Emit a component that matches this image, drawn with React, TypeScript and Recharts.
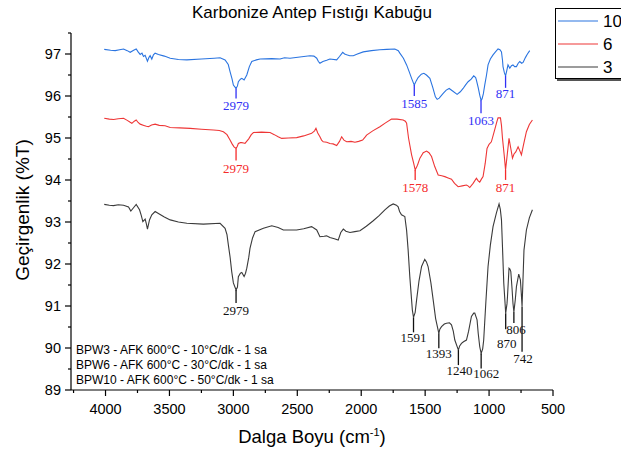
import React from 'react';
import { LineChart, Line, XAxis, YAxis, ReferenceLine } from 'recharts';

// BPW10 (mavi)
const bpw10Wave = [4010, 3960, 3924, 3890, 3859, 3830, 3807, 3780, 3760, 3745, 3729, 3715, 3703, 3690, 3672, 3660, 3651, 3638, 3625, 3612, 3586, 3540, 3494, 3430, 3364, 3250, 3150, 3104, 3065, 3040, 3026, 3010, 3000, 2979, 2968, 2961, 2945, 2934, 2916, 2895, 2875, 2856, 2820, 2791, 2700, 2635, 2600, 2557, 2480, 2401, 2370, 2348, 2335, 2323, 2300, 2270, 2245, 2192, 2170, 2145, 2130, 2114, 2090, 2062, 2030, 1984, 1920, 1854, 1800, 1737, 1710, 1698, 1670, 1645, 1625, 1606, 1585, 1570, 1555, 1530, 1510, 1490, 1463, 1440, 1420, 1406, 1390, 1359, 1335, 1312, 1285, 1250, 1225, 1203, 1185, 1164, 1140, 1120, 1105, 1099, 1085, 1073, 1063, 1055, 1045, 1034, 1020, 1008, 990, 969, 950, 930, 915, 903, 895, 891, 880, 871, 862, 852, 845, 838, 825, 813, 800, 786, 772, 760, 745, 734, 715, 700, 682];
const bpw10T = [97.11, 97.09, 97.08, 97.1, 97.12, 97.08, 97.04, 97.09, 97.12, 97.05, 96.99, 97.02, 96.94, 96.97, 96.83, 96.92, 96.96, 96.88, 96.98, 97.02, 96.99, 96.95, 96.9, 96.87, 96.86, 96.88, 96.9, 96.91, 96.86, 96.75, 96.58, 96.4, 96.26, 96.18, 96.24, 96.34, 96.4, 96.42, 96.38, 96.5, 96.7, 96.82, 96.86, 96.88, 96.89, 96.88, 96.91, 96.9, 96.93, 96.96, 96.95, 96.9, 96.82, 96.78, 96.82, 96.85, 96.88, 96.86, 96.94, 97.04, 97.0, 96.98, 96.96, 96.96, 97.0, 97.05, 97.08, 97.1, 97.11, 97.12, 97.08, 97.02, 96.9, 96.74, 96.58, 96.42, 96.26, 96.36, 96.44, 96.52, 96.54, 96.5, 96.42, 96.2, 95.98, 95.92, 95.95, 96.06, 96.14, 96.18, 96.12, 96.04, 96.1, 96.18, 96.26, 96.34, 96.4, 96.48, 96.44, 96.38, 96.2, 96.02, 95.9, 95.93, 96.05, 96.26, 96.5, 96.74, 96.88, 96.98, 97.05, 97.12, 97.1, 97.05, 96.85, 96.7, 96.55, 96.48, 96.6, 96.74, 96.7, 96.66, 96.72, 96.74, 96.7, 96.7, 96.78, 96.82, 96.78, 96.8, 96.92, 97.0, 97.08];

// BPW6 (kırmızı)
const bpw6Wave = [4010, 3970, 3937, 3900, 3859, 3830, 3810, 3794, 3775, 3760, 3745, 3729, 3700, 3680, 3664, 3640, 3612, 3580, 3534, 3494, 3420, 3338, 3250, 3156, 3110, 3078, 3050, 3026, 3010, 2995, 2979, 2970, 2961, 2945, 2934, 2920, 2909, 2880, 2860, 2843, 2780, 2713, 2680, 2650, 2622, 2570, 2505, 2450, 2388, 2365, 2354, 2340, 2323, 2310, 2297, 2270, 2245, 2220, 2192, 2170, 2153, 2135, 2114, 2080, 2049, 2020, 1989, 1970, 1958, 1910, 1854, 1810, 1763, 1720, 1672, 1655, 1645, 1630, 1606, 1590, 1578, 1560, 1541, 1515, 1489, 1470, 1450, 1425, 1398, 1370, 1346, 1320, 1294, 1270, 1242, 1210, 1177, 1165, 1151, 1125, 1099, 1085, 1073, 1060, 1047, 1030, 1016, 1000, 982, 960, 940, 930, 911, 903, 895, 882, 871, 858, 844, 830, 817, 805, 791, 773, 760, 747, 730, 708, 685, 661];
const bpw6T = [95.47, 95.45, 95.44, 95.46, 95.47, 95.42, 95.38, 95.35, 95.4, 95.43, 95.37, 95.33, 95.3, 95.28, 95.27, 95.31, 95.33, 95.3, 95.29, 95.25, 95.24, 95.23, 95.21, 95.19, 95.18, 95.15, 95.08, 94.95, 94.86, 94.79, 94.75, 94.8, 94.87, 94.89, 94.89, 94.88, 94.87, 94.98, 95.08, 95.13, 95.14, 95.13, 95.08, 95.03, 94.99, 95.0, 95.01, 95.05, 95.11, 95.17, 95.23, 95.12, 95.03, 94.95, 94.91, 94.9, 94.87, 94.86, 94.82, 94.92, 95.03, 94.95, 94.91, 94.92, 94.9, 94.92, 94.95, 95.02, 95.07, 95.17, 95.27, 95.36, 95.45, 95.45, 95.43, 95.4, 95.35, 95.0, 94.6, 94.4, 94.24, 94.35, 94.52, 94.65, 94.69, 94.65, 94.56, 94.32, 94.12, 94.1, 94.08, 94.05, 94.02, 93.92, 93.84, 93.86, 93.88, 93.86, 93.82, 93.92, 94.04, 93.98, 93.95, 94.02, 94.08, 94.4, 94.75, 94.85, 94.91, 95.15, 95.38, 95.48, 95.48, 95.3, 94.99, 94.6, 94.24, 94.6, 94.99, 94.75, 94.52, 94.62, 94.67, 94.79, 94.7, 94.6, 94.85, 95.15, 95.32, 95.43];

// BPW3 (siyah)
const bpw3Wave = [4010, 3970, 3937, 3900, 3859, 3820, 3802, 3781, 3760, 3734, 3720, 3708, 3690, 3680, 3672, 3656, 3638, 3612, 3573, 3540, 3494, 3430, 3364, 3235, 3104, 3065, 3050, 3039, 3025, 3013, 3000, 2979, 2968, 2961, 2945, 2934, 2916, 2905, 2895, 2880, 2870, 2850, 2830, 2765, 2700, 2650, 2609, 2505, 2450, 2388, 2348, 2323, 2290, 2271, 2245, 2210, 2180, 2160, 2140, 2120, 2088, 2050, 2010, 1960, 1906, 1860, 1815, 1780, 1750, 1725, 1711, 1700, 1685, 1659, 1645, 1633, 1620, 1606, 1600, 1591, 1578, 1567, 1548, 1528, 1503, 1490, 1477, 1455, 1437, 1418, 1393, 1385, 1372, 1350, 1333, 1310, 1294, 1280, 1268, 1240, 1230, 1216, 1200, 1177, 1160, 1138, 1120, 1112, 1094, 1085, 1073, 1062, 1050, 1042, 1025, 1008, 990, 969, 943, 930, 922, 912, 903, 895, 885, 870, 860, 856, 844, 837, 830, 820, 813, 806, 795, 786, 768, 755, 748, 742, 735, 727, 708, 685, 661];
const bpw3T = [93.42, 93.4, 93.39, 93.41, 93.4, 93.36, 93.26, 93.34, 93.42, 93.29, 93.15, 93.01, 93.07, 92.95, 92.83, 93.05, 93.17, 93.25, 93.18, 93.12, 93.05, 93.0, 92.97, 92.95, 92.97, 92.85, 92.7, 92.45, 92.15, 91.82, 91.55, 91.38, 91.45, 91.7, 91.78, 91.8, 91.7, 91.78, 91.9, 92.15, 92.37, 92.62, 92.77, 92.85, 92.91, 92.87, 92.81, 92.81, 92.84, 92.89, 92.81, 92.65, 92.66, 92.67, 92.63, 92.6, 92.57, 92.75, 92.83, 92.78, 92.75, 92.77, 92.79, 92.9, 93.03, 93.15, 93.29, 93.38, 93.43, 93.4, 93.36, 93.25, 93.17, 93.13, 92.8, 92.33, 91.7, 91.14, 90.9, 90.73, 90.85, 91.14, 91.6, 91.94, 92.11, 92.05, 91.94, 91.55, 91.14, 90.7, 90.35, 90.45, 90.51, 90.57, 90.59, 90.6, 90.55, 90.4, 90.19, 89.95, 90.05, 90.11, 90.15, 90.19, 90.4, 90.75, 90.83, 90.83, 90.67, 90.35, 90.03, 89.87, 89.98, 90.19, 91.1, 91.94, 92.45, 92.89, 93.21, 93.35, 93.43, 93.3, 93.05, 92.4, 91.54, 90.83, 91.05, 91.22, 91.9, 91.88, 91.82, 91.4, 91.06, 90.86, 91.15, 91.46, 91.76, 91.62, 91.3, 90.98, 91.6, 92.33, 92.81, 93.1, 93.29];

const seriesNames = ['10', '6', '3'];
const lineColors = ['#2a74e0', '#ee3636', '#3a3a3a'];
const peakColors = ['#3030f5', '#f52a2a', '#111111'];

// işaretlenen pikler: dalga sayısı, çizgi boyu (px), yazı kaydırma (px)
const peaks10 = [
  { w: 2979, len: 10, dx: 0, gap: 12 },
  { w: 1585, len: 11, dx: 0, gap: 12 },
  { w: 1063, len: 13, dx: 0, gap: 12 },
  { w: 871, len: 12, dx: 0, gap: 10 },
];
const peaks6 = [
  { w: 2979, len: 12, dx: 0, gap: 12 },
  { w: 1578, len: 10, dx: 0, gap: 12 },
  { w: 871, len: 10, dx: 0, gap: 12 },
];
const peaks3 = [
  { w: 2979, len: 13, dx: 0, gap: 12 },
  { w: 1591, len: 15, dx: 0, gap: 10 },
  { w: 1393, len: 15, dx: 0, gap: 10 },
  { w: 1240, len: 15, dx: 1, gap: 10 },
  { w: 1062, len: 15, dx: 5, gap: 10 },
  { w: 870, len: 16, dx: 1, gap: 19 },
  { w: 806, len: 11, dx: 2, gap: 11 },
  { w: 742, len: 45, dx: 1, gap: 11 },
];

const notes = [
  'BPW3 - AFK 600°C - 10°C/dk - 1 sa',
  'BPW6 - AFK 600°C - 30°C/dk - 1 sa',
  'BPW10 - AFK 600°C - 50°C/dk - 1 sa',
];

const xTicks = [500, 750, 1000, 1250, 1500, 1750, 2000, 2250, 2500, 2750, 3000, 3250, 3500, 3750, 4000, 4250];
const yTicks = [89, 89.5, 90, 90.5, 91, 91.5, 92, 92.5, 93, 93.5, 94, 94.5, 95, 95.5, 96, 96.5, 97, 97.5];

const W = 621;
const H = 454;
const PLOT_TOP = 33;
const PLOT_BOTTOM = 390;
const Y_MIN = 89;
const Y_MAX = 97.5;
const PX_PER_UNIT = (PLOT_BOTTOM - PLOT_TOP) / (Y_MAX - Y_MIN);

const SANS = '"Liberation Sans", Arial, sans-serif';
const SERIF = '"Liberation Serif", "Times New Roman", serif';

const toData = (waves: number[], ts: number[]) => waves.map((w, i) => ({ w, t: ts[i] }));

const series = [
  { data: toData(bpw10Wave, bpw10T), peaks: peaks10 },
  { data: toData(bpw6Wave, bpw6T), peaks: peaks6 },
  { data: toData(bpw3Wave, bpw3T), peaks: peaks3 },
];

const XTick = (props: any) => {
  const { x, y, payload } = props;
  const major = payload.value % 500 === 0;
  return (
    <g>
      <line x1={x} x2={x} y1={y} y2={y + (major ? 6 : 3)} stroke="#000" strokeWidth={1.2} />
      {major && (
        <text x={x} y={y + 24} textAnchor="middle" fontSize={14.5} fontFamily={SANS} fill="#000">
          {payload.value}
        </text>
      )}
    </g>
  );
};

const YTick = (props: any) => {
  const { x, y, payload } = props;
  const major = Number.isInteger(payload.value);
  return (
    <g>
      <line x1={x} x2={x - (major ? 6 : 3)} y1={y} y2={y} stroke="#000" strokeWidth={1.2} />
      {major && (
        <text x={x - 10} y={y + 5} textAnchor="end" fontSize={14.5} fontFamily={SANS} fill="#000">
          {payload.value}
        </text>
      )}
    </g>
  );
};

const peakLabel = (text: string, color: string, dx: number, gap: number) => (props: any) => {
  const vb = props.viewBox || {};
  const cx = (vb.x ?? 0) + (vb.width ?? 0) / 2;
  const bottom = Math.max(vb.y ?? 0, (vb.y ?? 0) + (vb.height ?? 0));
  return (
    <text x={cx + dx} y={bottom + gap} textAnchor="middle" fontSize={13} fontFamily={SERIF} fill={color}>
      {text}
    </text>
  );
};

export default function App() {
  return (
    <div style={{ position: 'absolute', left: 0, top: 0, width: W, height: H, overflow: 'hidden', background: '#fff' }}>
      <LineChart
        width={W}
        height={H}
        margin={{ top: PLOT_TOP, right: 68, bottom: 24, left: 21 }}
        style={{ position: 'absolute', left: 0, top: 0 }}
      >
        <XAxis
          dataKey="w"
          type="number"
          domain={[500, 4270]}
          reversed
          ticks={xTicks}
          interval={0}
          tick={<XTick />}
          tickLine={false}
          tickSize={0}
          tickMargin={0}
          height={40}
          axisLine={{ stroke: '#000', strokeWidth: 1.2 }}
          allowDataOverflow
        />
        <YAxis
          type="number"
          domain={[Y_MIN, Y_MAX]}
          ticks={yTicks}
          interval={0}
          tick={<YTick />}
          tickLine={false}
          tickSize={0}
          tickMargin={0}
          width={50}
          axisLine={{ stroke: '#000', strokeWidth: 1.2 }}
          allowDataOverflow
        />
        {series.map((s, i) => (
          <Line
            key={seriesNames[i]}
            data={s.data}
            dataKey="t"
            type="linear"
            stroke={lineColors[i]}
            strokeWidth={1.1}
            dot={false}
            isAnimationActive={false}
          />
        ))}
        {series.map((s, i) =>
          s.peaks.map((p) => {
            const pt = s.data.find((d) => d.w === p.w);
            const t = pt ? pt.t : 0;
            return (
              <ReferenceLine
                key={`${i}-${p.w}`}
                segment={[
                  { x: p.w, y: t },
                  { x: p.w, y: t - p.len / PX_PER_UNIT },
                ]}
                stroke={peakColors[i]}
                strokeWidth={1.3}
                label={peakLabel(String(p.w), peakColors[i], p.dx, p.gap)}
              />
            );
          })
        )}
      </LineChart>

      <svg width={W} height={H} style={{ position: 'absolute', left: 0, top: 0, pointerEvents: 'none' }}>
        <text x={312} y={18} textAnchor="middle" fontSize={17} fontFamily={SANS} fill="#000">
          Karbonize Antep Fıstığı Kabuğu
        </text>
        <text
          x={0}
          y={0}
          transform="translate(29 210) rotate(-90)"
          textAnchor="middle"
          fontSize={19}
          fontFamily={SANS}
          fill="#000"
        >
          Geçirgenlik (%T)
        </text>
        <text x={312} y={443} textAnchor="middle" fontSize={18.5} fontFamily={SANS} fill="#000">
          <tspan>Dalga Boyu (cm</tspan>
          <tspan dy={-7} fontSize={11}>-1</tspan>
          <tspan dy={7}>)</tspan>
        </text>
        {notes.map((n, i) => (
          <text key={n} x={76} y={354 + i * 15} fontSize={12} fontFamily={SANS} fill="#000">
            {n}
          </text>
        ))}
        <rect x={557} y={10} width={80} height={71} fill="#555" />
        <rect x={555.5} y={8.5} width={80} height={70} fill="#fff" stroke="#000" strokeWidth={1} />
        {seriesNames.map((n, i) => (
          <g key={n}>
            <line x1={558} x2={598} y1={21 + i * 23} y2={21 + i * 23} stroke={lineColors[i]} strokeWidth={1.1} />
            <text x={603} y={27 + i * 23} fontSize={17} fontFamily={SANS} fill="#000">
              {n}
            </text>
          </g>
        ))}
      </svg>
    </div>
  );
}
